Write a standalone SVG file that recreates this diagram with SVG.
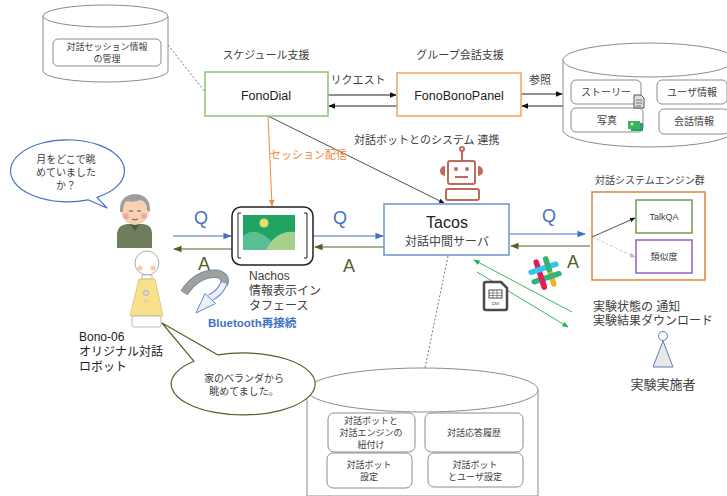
<svg xmlns="http://www.w3.org/2000/svg" width="727" height="496" viewBox="0 0 727 496">
  <defs>
    <style>
      text { font-family: "Liberation Sans", "Noto Sans CJK JP", sans-serif; fill: #404040; }
      .t9 { font-size: 9px; }
      .t10 { font-size: 10px; }
      .t11 { font-size: 11px; }
      .t12 { font-size: 12px; }
      .qa { font-size: 18px; }
      .q { fill: #4472C4; }
      .a { fill: #4F6228; }
      .cyl { fill: #fff; stroke: #8c8c8c; stroke-width: 1; }
      .inner { fill: #fff; stroke: #8c8c8c; stroke-width: 1; }
      .mid { text-anchor: middle; }
    </style>
    <marker id="hBlack" viewBox="0 0 10 10" refX="9" refY="5" markerWidth="7" markerHeight="7" orient="auto-start-reverse">
      <path d="M0,1 L10,5 L0,9 z" fill="#111"/>
    </marker>
    <marker id="hBlue" viewBox="0 0 10 10" refX="9" refY="5" markerWidth="7" markerHeight="7" orient="auto-start-reverse">
      <path d="M0,1 L10,5 L0,9 z" fill="#4472C4"/>
    </marker>
    <marker id="hGreen" viewBox="0 0 10 10" refX="9" refY="5" markerWidth="7" markerHeight="7" orient="auto-start-reverse">
      <path d="M0,1 L10,5 L0,9 z" fill="#4F6228"/>
    </marker>
    <marker id="hOrange" viewBox="0 0 10 10" refX="9" refY="5" markerWidth="7" markerHeight="7" orient="auto-start-reverse">
      <path d="M0,1 L10,5 L0,9 z" fill="#F08A3C"/>
    </marker>
    <marker id="hLime" viewBox="0 0 10 10" refX="9" refY="5" markerWidth="7" markerHeight="7" orient="auto-start-reverse">
      <path d="M0,1 L10,5 L0,9 z" fill="#22B14C"/>
    </marker>
    <marker id="hGrey" viewBox="0 0 10 10" refX="9" refY="5" markerWidth="7" markerHeight="7" orient="auto-start-reverse">
      <path d="M0,1 L10,5 L0,9 z" fill="#b8b8b8"/>
    </marker>
  </defs>

  <rect width="727" height="496" fill="#fff"/>

  <!-- connectors -->
  <g id="connectors" fill="none">
    <line x1="168" y1="45" x2="205" y2="92" stroke="#555" stroke-width="0.8" stroke-dasharray="2,2"/>
    <line x1="328" y1="95" x2="396" y2="95" stroke="#222" stroke-width="1" marker-end="url(#hBlack)"/>
    <line x1="397" y1="106" x2="329" y2="106" stroke="#222" stroke-width="1" marker-end="url(#hBlack)"/>
    <line x1="521" y1="94" x2="562" y2="94" stroke="#222" stroke-width="1" marker-end="url(#hBlack)"/>
    <line x1="563" y1="106" x2="522" y2="106" stroke="#222" stroke-width="1" marker-end="url(#hBlack)"/>
    <line x1="268" y1="116" x2="444" y2="203" stroke="#222" stroke-width="0.8" marker-end="url(#hBlack)"/>
    <line x1="268" y1="116" x2="272" y2="206" stroke="#F08A3C" stroke-width="1" marker-end="url(#hOrange)"/>
    <line x1="173" y1="236" x2="231" y2="236" stroke="#4472C4" stroke-width="1.2" marker-end="url(#hBlue)"/>
    <line x1="232" y1="249" x2="174" y2="249" stroke="#4F6228" stroke-width="1.2" marker-end="url(#hGreen)"/>
    <line x1="313" y1="236" x2="383" y2="236" stroke="#4472C4" stroke-width="1.2" marker-end="url(#hBlue)"/>
    <line x1="384" y1="247" x2="315" y2="247" stroke="#4F6228" stroke-width="1.2" marker-end="url(#hGreen)"/>
    <line x1="509" y1="234" x2="585" y2="234" stroke="#4472C4" stroke-width="1.2" marker-end="url(#hBlue)"/>
    <line x1="590" y1="246" x2="511" y2="246" stroke="#4F6228" stroke-width="1.2" marker-end="url(#hGreen)"/>
    <line x1="572" y1="312" x2="474" y2="260" stroke="#22B14C" stroke-width="0.9" marker-end="url(#hLime)"/>
    <line x1="477" y1="272" x2="568" y2="327" stroke="#22B14C" stroke-width="0.9" marker-end="url(#hLime)"/>
    <line x1="448" y1="256" x2="425" y2="368" stroke="#555" stroke-width="0.8" stroke-dasharray="2,2"/>
  </g>

  <!-- session store -->
  <g id="sessionStore">
    <path class="cyl" d="M43,16 V71 A62.5,11 0 0 0 168,71 V16"/>
    <ellipse class="cyl" cx="105.5" cy="16" rx="62.5" ry="11"/>
    <rect class="inner" x="53" y="39" width="108" height="27" rx="5"/>
    <text class="t9 mid" x="107" y="50">対話セッション情報</text>
    <text class="t9 mid" x="107" y="62">の管理</text>
  </g>

  <!-- FonoDial -->
  <g id="fonoDial">
    <text class="t11 mid" x="266" y="59">スケジュール支援</text>
    <rect x="205" y="72" width="123" height="44" fill="#fff" stroke="#8DC26F" stroke-width="1.5"/>
    <text class="mid" x="266" y="100" font-size="12.5" style="fill:#222">FonoDial</text>
  </g>
  <text class="t11 mid" x="358" y="84">リクエスト</text>

  <!-- FonoBonoPanel -->
  <g id="fonoBonoPanel">
    <text class="t11 mid" x="460" y="59">グループ会話支援</text>
    <rect x="397" y="73" width="124" height="43" fill="#fff" stroke="#F4A460" stroke-width="1.5"/>
    <text class="mid" x="459" y="100" font-size="12.5" style="fill:#222">FonoBonoPanel</text>
  </g>
  <text class="t11" x="529" y="84">参照</text>

  <!-- content store -->
  <g id="contentStore">
    <path class="cyl" d="M563,60 V130 A86,17 0 0 0 735,130 V60"/>
    <ellipse class="cyl" cx="649" cy="60" rx="86" ry="17"/>
    <rect class="inner" x="571" y="80" width="70" height="24" rx="5"/>
    <text class="t10 mid" x="606" y="96">ストーリー</text>
    <rect class="inner" x="571" y="108" width="72" height="24" rx="5"/>
    <text class="t10 mid" x="607" y="124">写真</text>
    <rect class="inner" x="657" y="80" width="70" height="24" rx="5"/>
    <text class="t10 mid" x="692" y="96">ユーザ情報</text>
    <rect class="inner" x="659" y="109" width="70" height="25" rx="5"/>
    <text class="t10 mid" x="694" y="125">会話情報</text>
    <!-- document glyph -->
    <path d="M634,95 h7 l3,3 v10 h-10 z" fill="#ddd" stroke="#555" stroke-width="1"/>
    <path d="M636,100 h6 M636,103 h6 M636,106 h5" stroke="#555" stroke-width="0.8"/>
    <!-- photo glyph -->
    <rect x="631" y="123" width="12" height="8" fill="#2E9E5B"/>
    <rect x="628" y="121" width="12" height="8" fill="#36B56A"/>
    <circle cx="632" cy="124" r="1.5" fill="#F3E26A"/>
  </g>

  <!-- bot integration label and robot glyph -->
  <text class="t11" x="354" y="144">対話ボットとのシステム 連携</text>
  <g id="botGlyph" fill="none" stroke="#C0685A" stroke-width="2">
    <line x1="462" y1="151" x2="462" y2="160"/>
    <circle cx="462" cy="149" r="2"/>
    <rect x="448" y="161" width="27" height="23" rx="2"/>
    <circle cx="456" cy="169" r="2" fill="#C0685A" stroke="none"/>
    <circle cx="467" cy="169" r="2" fill="#C0685A" stroke="none"/>
    <line x1="455" y1="177" x2="468" y2="177"/>
    <path d="M445,166 a5,5 0 0 0 0,10 z" fill="#C0685A" stroke="none"/>
    <path d="M478,166 a5,5 0 0 1 0,10 z" fill="#C0685A" stroke="none"/>
    <rect x="446" y="189" width="33" height="11" rx="2"/>
  </g>

  <text x="270" y="159" font-size="11" style="fill:#F08A3C">セッション配信</text>

  <!-- Tacos -->
  <g id="tacos">
    <rect x="384" y="204" width="125" height="51" fill="#fff" stroke="#6A93D4" stroke-width="1.5"/>
    <text class="mid" x="447" y="228" font-size="16" style="fill:#222">Tacos</text>
    <text class="t12 mid" x="447" y="246">対話中間サーバ</text>
  </g>

  <!-- Nachos -->
  <g id="nachos">
    <rect x="232" y="207" width="81" height="58" rx="9" fill="#fff" stroke="#222" stroke-width="1.5"/>
    <path d="M241,213 h-3 v45 h3 M304,213 h3 v45 h-3" fill="none" stroke="#222" stroke-width="1"/>
    <rect x="243" y="215" width="52" height="35" fill="#1FA463"/>
    <path d="M243,236 Q255,226 270,240 Q282,250 295,250 L295,250 H243 z" fill="#5BBF95"/>
    <path d="M266,250 Q276,230 295,232 V250 z" fill="#A7D08C"/>
    <circle cx="264" cy="223" r="4.5" fill="#E8DC6A"/>
    <text class="t12" x="249" y="280">Nachos</text>
    <text class="t12" x="249" y="295">情報表示イン</text>
    <text class="t12" x="249" y="310">タフェース</text>
  </g>

  <!-- Q / A labels -->
  <text class="qa q" x="194" y="224">Q</text>
  <text class="qa a" x="198" y="270">A</text>
  <text class="qa q" x="333" y="224">Q</text>
  <text class="qa a" x="343" y="272">A</text>
  <text class="qa q" x="542" y="222">Q</text>
  <text class="qa a" x="567" y="268">A</text>

  <!-- dialogue engines -->
  <g id="engines">
    <text class="t10" x="595" y="184">対話システムエンジン群</text>
    <rect x="592" y="192" width="113" height="88" fill="#fff" stroke="#E0823C" stroke-width="1.5"/>
  </g>
  <g id="talkQA">
    <rect x="636" y="200" width="56" height="33" fill="#fff" stroke="#6E9E4E" stroke-width="1.5"/>
    <text class="t9 mid" x="664" y="220">TalkQA</text>
  </g>
  <g id="similarity">
    <rect x="636" y="240" width="56" height="33" fill="#fff" stroke="#9A5CC6" stroke-width="1.5"/>
    <text class="t9 mid" x="664" y="260">類似度</text>
  </g>
  <!-- engine dispatch arrows, drawn over the group box -->
  <g id="engineConnectors" fill="none">
    <line x1="592" y1="237" x2="635" y2="218" stroke="#222" stroke-width="0.8" marker-end="url(#hBlack)"/>
    <line x1="592" y1="237" x2="635" y2="257" stroke="#b8b8b8" stroke-width="0.8" stroke-dasharray="3,2" marker-end="url(#hGrey)"/>
  </g>

  <!-- chat hash glyph -->
  <g id="chatGlyph" transform="translate(545,273) rotate(-18)" stroke-linecap="round" stroke-width="5.5" fill="none">
    <line x1="-5" y1="-13" x2="-5" y2="13" stroke="#E01E5A"/>
    <line x1="5" y1="-13" x2="5" y2="13" stroke="#ECB22E"/>
    <line x1="-13" y1="-5" x2="13" y2="-5" stroke="#36C5F0"/>
    <line x1="-13" y1="5" x2="13" y2="5" stroke="#2EB67D"/>
    <line x1="5" y1="-13" x2="5" y2="-2" stroke="#2EB67D"/>
    <line x1="-5" y1="2" x2="-5" y2="13" stroke="#E01E5A"/>
  </g>

  <!-- csv file glyph -->
  <g id="csvGlyph">
    <path d="M486,282 h15 l6,6 v20 a2,2 0 0 1 -2,2 h-19 a2,2 0 0 1 -2,-2 v-24 a2,2 0 0 1 2,-2 z" fill="#fff" stroke="#4a4a4a" stroke-width="2.5"/>
    <rect x="489" y="290" width="13" height="8" fill="none" stroke="#4a4a4a" stroke-width="1"/>
    <path d="M489,293 h13 M489,295.5 h13 M493,290 v8 M497,290 v8" stroke="#4a4a4a" stroke-width="0.6"/>
    <text x="495.5" y="305" font-size="5" class="mid" style="fill:#4a4a4a">csv</text>
  </g>

  <!-- experimenter -->
  <g id="experimenter">
    <text class="t12" x="593" y="311">実験状態の 通知</text>
    <text class="t12" x="593" y="325">実験結果ダウンロード</text>
    <circle cx="663" cy="336" r="4.5" fill="#fff" stroke="#5B7FB8" stroke-width="1"/>
    <path d="M663,341 L653,367 H673 z" fill="#e8e8e8" stroke="#5B7FB8" stroke-width="1"/>
    <text class="mid" x="663" y="389" font-size="13">実験実施者</text>
  </g>

  <!-- bot data store -->
  <g id="botStore">
    <path class="cyl" d="M307,390 V496 H538 V390"/>
    <ellipse class="cyl" cx="422.5" cy="390" rx="115.5" ry="22"/>
    <rect class="inner" x="328" y="413" width="87" height="39" rx="6"/>
    <text class="t9 mid" x="371" y="424">対話ボットと</text>
    <text class="t9 mid" x="371" y="436">対話エンジンの</text>
    <text class="t9 mid" x="371" y="448">紐付け</text>
    <rect class="inner" x="327" y="453" width="85" height="35" rx="6"/>
    <text class="t9 mid" x="369" y="468">対話ボット</text>
    <text class="t9 mid" x="369" y="480">設定</text>
    <rect class="inner" x="425" y="413" width="98" height="39" rx="6"/>
    <text class="t9 mid" x="474" y="436">対話応答履歴</text>
    <rect class="inner" x="428" y="453" width="95" height="34" rx="6"/>
    <text class="t9 mid" x="475" y="468">対話ボット</text>
    <text class="t9 mid" x="475" y="480">とユーザ設定</text>
  </g>

  <!-- question balloon -->
  <g id="questionBalloon">
    <path d="M88,199.8 A57,31 0 1 1 97,197.4 L107,208 Z" fill="#fff" stroke="#4472C4" stroke-width="1.2" stroke-linejoin="round"/>
    <text class="t10 mid" x="66" y="163">月をどこで眺</text>
    <text class="t10 mid" x="66" y="176">めていました</text>
    <text class="t10 mid" x="66" y="189">か？</text>
  </g>

  <!-- elderly user -->
  <g id="elderlyUser">
    <path d="M117,248 V233 Q118,225 127,224 H143 Q152,225 152,233 V248 Z" fill="#6E7D5C"/>
    <path d="M130,224 L135,231 L140,224 Z" fill="#4E5A40"/>
    <ellipse cx="135" cy="210" rx="14" ry="15" fill="#F6D2B4"/>
    <path d="M120,212 Q119,195 135,194 Q151,195 150,212 L147,210 Q147,201 140,200 Q135,203 126,201 Q123,204 123,212 Z" fill="#9E9E9E"/>
    <circle cx="126" cy="216" r="3" fill="#F4A7A0"/>
    <circle cx="144" cy="216" r="3" fill="#F4A7A0"/>
    <path d="M129,211 h4 M137,211 h4" stroke="#555" stroke-width="1"/>
    <path d="M132,219 q3,2 6,0" stroke="#A04040" stroke-width="1" fill="none"/>
  </g>

  <!-- Bono-06 robot -->
  <g id="bono06">
    <circle cx="147" cy="263" r="12" fill="#fff" stroke="#aaa" stroke-width="1"/>
    <circle cx="140" cy="268" r="2.5" fill="#F8C9A6"/>
    <circle cx="153" cy="268" r="2.5" fill="#F8C9A6"/>
    <rect x="142" y="275" width="10" height="4" fill="#fff" stroke="#aaa" stroke-width="0.8"/>
    <path d="M139,279 H155 L163,316 H130 Z" fill="#F9E08C" stroke="#d8c070" stroke-width="0.8"/>
    <circle cx="146" cy="293" r="2.5" fill="#ddd" stroke="#999" stroke-width="0.6"/>
    <circle cx="146" cy="301" r="1.2" fill="#fff" stroke="#999" stroke-width="0.5"/>
    <rect x="132" y="316" width="29" height="11" rx="2" fill="#fff" stroke="#aaa" stroke-width="0.8"/>
    <text class="t12" x="79" y="341" style="fill:#222">Bono-06</text>
    <text class="t12" x="79" y="356" style="fill:#222">オリジナル対話</text>
    <text class="t12" x="79" y="371" style="fill:#222">ロボット</text>
  </g>

  <!-- reconnect arrow: grey back band curling into a front band with arrowhead -->
  <g id="reconnect" fill="none" stroke-linecap="butt">
    <path d="M184,293 Q198,272 218,274 Q227,277 224,284" stroke="#7a8ba8" stroke-width="8.5"/>
    <path d="M184,293 Q198,272 218,274 Q227,277 224,284" stroke="#a0a0a0" stroke-width="6.5"/>
    <path d="M224,283 Q221,292 210,298" stroke="#5B8BD6" stroke-width="7.5"/>
    <path d="M224,283 Q221,292 210,298" stroke="#eef2f8" stroke-width="5.5"/>
    <path d="M215.5,303.5 L196,313 L205,293.5 Z" fill="#eef2f8" stroke="#5B8BD6" stroke-width="1" stroke-linejoin="round"/>
    <text x="208" y="327" font-size="11.5" font-weight="bold" stroke="none" style="fill:#4472C4">Bluetooth再接続</text>
  </g>

  <!-- answer balloon -->
  <g id="answerBalloon">
    <path d="M194,361.3 L162,323 L218,354.9 A72,31 0 1 1 194,361.3 Z" fill="#fff" stroke="#4F6228" stroke-width="1.2" stroke-linejoin="round"/>
    <text class="t10 mid" x="244" y="382">家のベランダから</text>
    <text class="t10 mid" x="244" y="395">眺めてました。</text>
  </g>
</svg>
